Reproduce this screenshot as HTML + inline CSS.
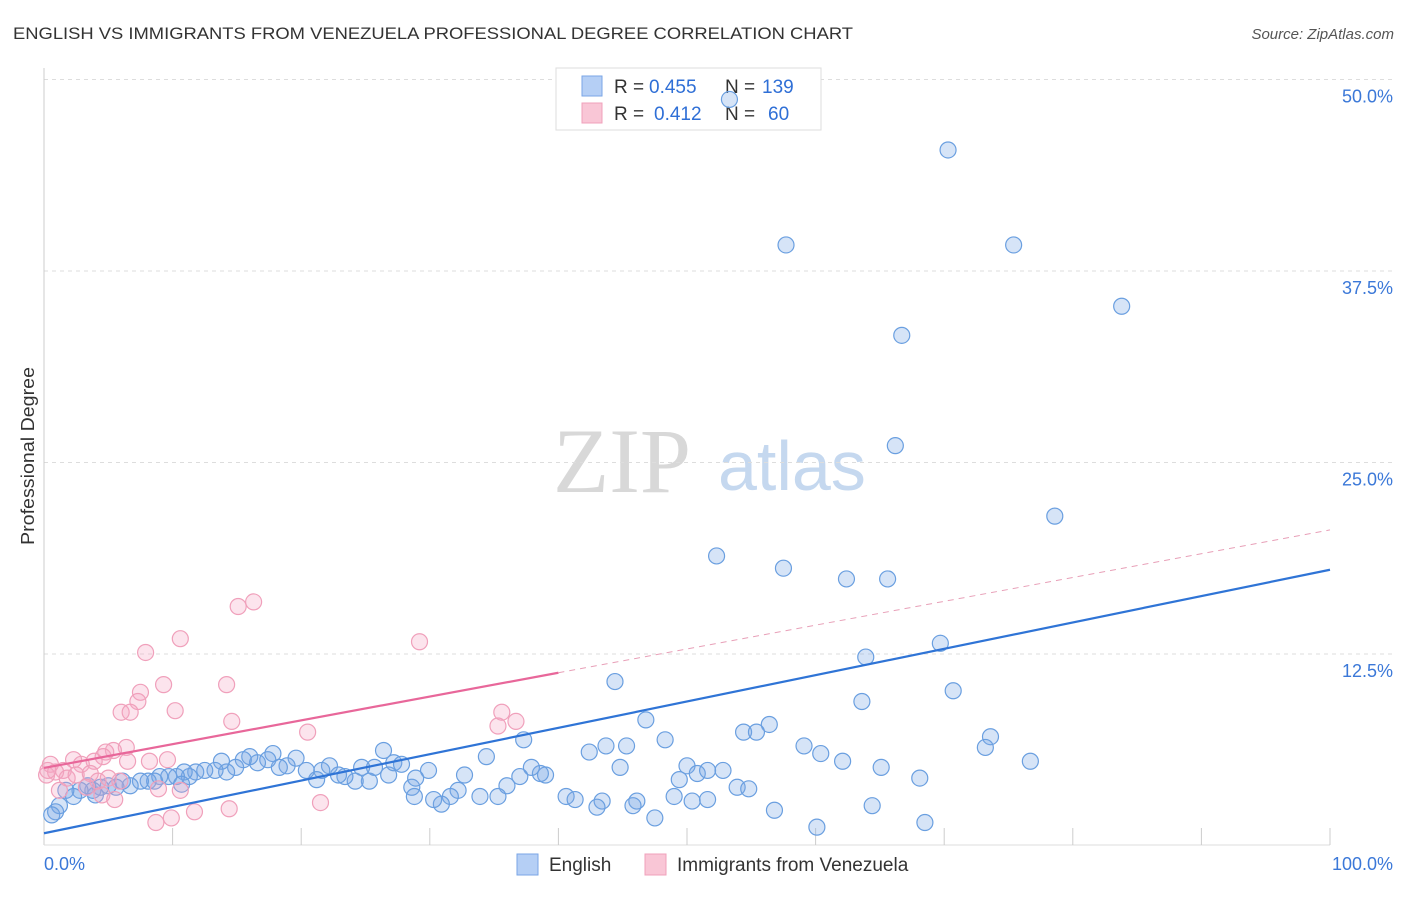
<!DOCTYPE html>
<html><head><meta charset="utf-8"><style>
body{margin:0;background:#fff;font-family:"Liberation Sans",sans-serif;}
#c{position:relative;width:1406px;height:892px;}
</style></head><body>
<div id="c">
<svg id="svg" width="1406" height="892" xmlns="http://www.w3.org/2000/svg" font-family="Liberation Sans, sans-serif">
<text x="13" y="39" font-size="17" fill="#333" textLength="840" lengthAdjust="spacingAndGlyphs">ENGLISH VS IMMIGRANTS FROM VENEZUELA PROFESSIONAL DEGREE CORRELATION CHART</text>
<text x="1394" y="39" font-size="15" fill="#555" text-anchor="end" font-style="italic">Source: ZipAtlas.com</text>
<text x="34" y="456" font-size="18" fill="#333" text-anchor="middle" textLength="178" lengthAdjust="spacingAndGlyphs" transform="rotate(-90 34 456)">Professional Degree</text>
<g><text x="553" y="492" font-size="92" fill="#d8d8d8" font-family="Liberation Serif, serif">ZIP</text><text x="718" y="490" font-size="70" fill="#c5d8ef">atlas</text></g>
<g id="grid"></g>
<g>
<rect x="556" y="68" width="265" height="62" fill="#fff" stroke="#ddd"/>
<rect x="582" y="76" width="20" height="20" fill="#b5cff5" stroke="#7aa6e6"/>
<rect x="582" y="103" width="20" height="20" fill="#f9c6d6" stroke="#f0a0bb"/>
<text x="614" y="93" font-size="19" fill="#333">R =</text>
<text x="649" y="93" font-size="19" fill="#2f6fd6">0.455</text>
<text x="725" y="93" font-size="19" fill="#333">N =</text>
<text x="762" y="93" font-size="19" fill="#2f6fd6">139</text>
<text x="614" y="120" font-size="19" fill="#333">R =</text>
<text x="654" y="120" font-size="19" fill="#2f6fd6">0.412</text>
<text x="725" y="120" font-size="19" fill="#333">N =</text>
<text x="768" y="120" font-size="19" fill="#2f6fd6">60</text>
</g>
<g id="marks"></g>
<g>
<rect x="517" y="854" width="21" height="21" fill="#b5cff5" stroke="#7aa6e6"/>
<text x="549" y="871" font-size="19" fill="#333">English</text>
<rect x="645" y="854" width="21" height="21" fill="#f9c6d6" stroke="#f0a0bb"/>
<text x="677" y="871" font-size="19" fill="#333">Immigrants from Venezuela</text>
</g>
</svg>
</div>
<script>
const yTicks=[12.5,25,37.5,50];
const yTickLabels=["12.5%","25.0%","37.5%","50.0%"];
const xTicks=[10,20,30,40,50,60,70,80,90,100];
const blueX=[53.3,70.3,57.7,75.4,83.8,66.7,66.2,78.6,52.3,57.5,62.4,65.6,63.9,69.7,44.4,70.7,63.6,46.8,56.4,54.4,55.4,48.3,37.3,73.6,73.2,59.1,60.4,62.1,65.1,76.7,68.1,43.7,45.3,42.4,44.8,50.0,50.8,51.6,52.8,53.9,54.8,49.4,49.0,50.4,51.6,56.8,64.4,60.1,68.5,47.5,46.1,45.8,43.4,43.0,40.6,41.3,39.0,38.6,37.9,37.0,36.0,34.4,35.3,33.9,32.7,32.2,31.6,30.9,30.3,28.6,28.8,29.9,28.9,26.8,26.4,27.2,27.8,25.3,25.7,24.7,24.2,23.4,22.9,22.2,21.6,21.2,20.4,19.6,18.9,18.3,17.8,17.4,16.6,16.0,15.5,14.9,14.2,13.8,13.3,12.5,11.8,11.3,10.9,10.3,9.7,9.0,8.6,8.1,7.5,6.7,6.1,5.6,5.0,4.4,3.8,3.4,2.8,2.3,1.7,1.2,0.9,0.6,4.0,10.7];
const blueY=[48.7,45.4,39.2,39.2,35.2,33.3,26.1,21.5,18.9,18.1,17.4,17.4,12.3,13.2,10.7,10.1,9.4,8.2,7.9,7.4,7.4,6.9,6.9,7.1,6.4,6.5,6.0,5.5,5.1,5.5,4.4,6.5,6.5,6.1,5.1,5.2,4.7,4.9,4.9,3.8,3.7,4.3,3.2,2.9,3.0,2.3,2.6,1.2,1.5,1.8,2.9,2.6,2.9,2.5,3.2,3.0,4.6,4.7,5.1,4.5,3.9,5.8,3.2,3.2,4.6,3.6,3.2,2.7,3.0,3.8,3.2,4.9,4.4,4.6,6.2,5.4,5.3,4.2,5.1,5.1,4.2,4.5,4.6,5.2,4.9,4.3,4.9,5.7,5.2,5.1,6.0,5.6,5.4,5.8,5.6,5.1,4.8,5.5,4.9,4.9,4.8,4.5,4.8,4.5,4.5,4.5,4.2,4.2,4.2,3.9,4.2,3.8,3.9,3.8,3.6,3.9,3.6,3.2,3.6,2.6,2.2,2.0,3.3,4.0];
const pinkX=[15.1,16.3,10.6,29.2,7.9,9.3,14.2,7.5,7.3,6.0,6.7,10.2,35.6,36.7,14.6,35.3,20.5,6.4,5.4,4.8,4.6,6.5,8.2,9.6,3.9,2.9,2.3,1.5,0.5,0.2,0.9,1.8,2.5,3.6,4.2,5.0,5.9,1.2,3.3,4.5,5.5,8.9,10.6,21.5,14.4,11.7,9.9,8.7,0.3];
const pinkY=[15.6,15.9,13.5,13.3,12.6,10.5,10.5,10.0,9.4,8.7,8.7,8.8,8.7,8.1,8.1,7.8,7.4,6.4,6.2,6.1,5.8,5.5,5.5,5.6,5.5,5.3,5.6,4.9,5.3,4.6,4.8,4.4,4.6,4.7,4.2,4.4,4.2,3.6,3.8,3.3,3.0,3.7,3.6,2.8,2.4,2.2,1.8,1.5,4.9];
const blueLine=[0.8,18.0];
const pinkLine=[5.06,20.6];
const pinkSolidEnd=40;
const NS="http://www.w3.org/2000/svg";
const xs=v=>44+v*12.86, ys=v=>845.5-v*15.32;
function mk(t,a,p){const e=document.createElementNS(NS,t);for(const k in a)e.setAttribute(k,a[k]);p.appendChild(e);return e;}
const g=document.getElementById('grid'), m=document.getElementById('marks');
yTicks.forEach((t,i)=>{
 const l=mk('line',{x1:44,x2:1394,y1:ys(t),y2:ys(t),stroke:'#ddd','stroke-dasharray':'4,4'},g);
 
 
 const tx=mk('text',{x:1393,y:ys(t)+23,'font-size':18,fill:'#3b78d8','text-anchor':'end'},g);tx.textContent=yTickLabels[i];
 
 
});
mk('line',{x1:44,x2:44,y1:68,y2:845,stroke:'#ccc'},g);
mk('line',{x1:44,x2:1330,y1:845,y2:845,stroke:'#ddd'},g);
xTicks.forEach(t=>{const l=mk('line',{x1:xs(t),x2:xs(t),y1:828,y2:845,stroke:'#ccc'},g);
 
 });
const x0=mk('text',{x:44,y:870,'font-size':18,fill:'#3b78d8'},g);x0.textContent='0.0%';


const x1=mk('text',{x:1393,y:870,'font-size':18,fill:'#3b78d8','text-anchor':'end'},g);x1.textContent='100.0%';


blueX.forEach((v,i)=>{const c=mk('circle',{cx:xs(v),cy:ys(blueY[i]),r:8,fill:'rgba(120,165,230,0.3)',stroke:'#6a9fe0','stroke-width':1.2},m);
 
 });
pinkX.forEach((v,i)=>{const c=mk('circle',{cx:xs(v),cy:ys(pinkY[i]),r:8,fill:'rgba(245,165,195,0.3)',stroke:'#f0a0bb','stroke-width':1.2},m);
 
 });
const bl=mk('line',{x1:xs(0),y1:ys(blueLine[0]),x2:xs(100),y2:ys(blueLine[1]),stroke:'#2f74d6','stroke-width':2.2},m);


const pv=x=>pinkLine[0]+(pinkLine[1]-pinkLine[0])*x/100;
const pl=mk('line',{x1:xs(0),y1:ys(pv(0)),x2:xs(pinkSolidEnd),y2:ys(pv(pinkSolidEnd)),stroke:'#e8679a','stroke-width':2.2},m);


const pd=mk('line',{x1:xs(pinkSolidEnd),y1:ys(pv(pinkSolidEnd)),x2:xs(100),y2:ys(pv(100)),stroke:'#e8a0b8','stroke-width':1,'stroke-dasharray':'6,5'},m);


</script>
</body></html>
